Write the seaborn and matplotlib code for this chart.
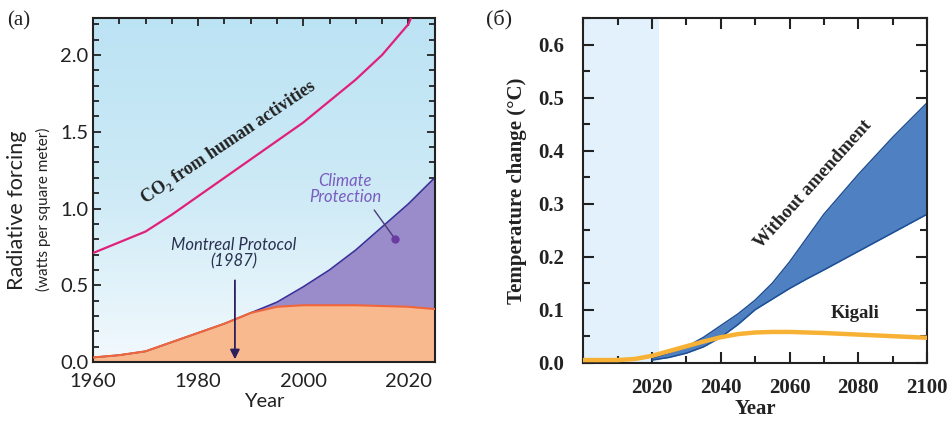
import numpy as np
import pandas as pd
import matplotlib
matplotlib.use("Agg")
import matplotlib.pyplot as plt
import seaborn as sns

# ---- panel (a) data ----
co2_years = [1960, 1965, 1970, 1975, 1980, 1985, 1990, 1995, 2000, 2005, 2010, 2015, 2018, 2020, 2020.5]
co2_forcing = [0.71, 0.78, 0.85, 0.96, 1.08, 1.20, 1.32, 1.44, 1.56, 1.70, 1.84, 2.00, 2.12, 2.20, 2.24]

ods_years = [1960, 1965, 1970, 1975, 1980, 1985, 1990, 1995, 2000, 2005, 2010, 2015, 2020, 2025]
montreal_forcing = [0.03, 0.045, 0.07, 0.13, 0.19, 0.25, 0.32, 0.36, 0.37, 0.37, 0.37, 0.365, 0.36, 0.345]
no_protocol_forcing = [0.03, 0.045, 0.07, 0.13, 0.19, 0.25, 0.32, 0.39, 0.49, 0.60, 0.73, 0.88, 1.03, 1.20]

# ---- panel (б) data ----
band_years = [2020, 2025, 2030, 2035, 2040, 2045, 2050, 2055, 2060, 2065, 2070, 2080, 2090, 2100]
no_amend_high = [0.008, 0.018, 0.03, 0.048, 0.07, 0.092, 0.118, 0.15, 0.19, 0.235, 0.28, 0.355, 0.425, 0.49]
no_amend_low = [0.005, 0.01, 0.018, 0.03, 0.048, 0.072, 0.10, 0.12, 0.14, 0.158, 0.175, 0.21, 0.245, 0.28]

kigali_years = [2000, 2010, 2015, 2020, 2025, 2030, 2035, 2040, 2045, 2050, 2055, 2060, 2070, 2080, 2090, 2100]
kigali_temp = [0.005, 0.005, 0.007, 0.013, 0.022, 0.031, 0.04, 0.048, 0.054, 0.057, 0.058, 0.058, 0.056, 0.053, 0.05, 0.047]

sns.set_theme(style="ticks")
plt.rcParams["font.family"] = ["Lato", "DejaVu Sans"]
SERIF = ["Liberation Serif", "DejaVu Serif"]

fig = plt.figure(figsize=(9.49, 4.21), dpi=100)
ax1 = fig.add_axes([0.098, 0.140, 0.360, 0.817])
ax2 = fig.add_axes([0.6147, 0.1385, 0.3621, 0.8185])

# ======================
# (a) radiative forcing
# ======================
grad = np.linspace(0, 1, 256).reshape(-1, 1)
cmap_bg = matplotlib.colors.LinearSegmentedColormap.from_list("bg", ["#f2f9fd", "#cdeaf6", "#bce3f4"])
ax1.imshow(grad, extent=[1960, 2025, 0, 2.24], origin="lower", aspect="auto", cmap=cmap_bg, zorder=0)

ax1.fill_between(ods_years, montreal_forcing, no_protocol_forcing, color="#9a8ccb", zorder=1, lw=0)
ax1.fill_between(ods_years, 0, montreal_forcing, color="#f9b98e", zorder=1, lw=0)
df_a = pd.DataFrame({"year": ods_years, "montreal": montreal_forcing, "noprot": no_protocol_forcing})
sns.lineplot(data=df_a, x="year", y="noprot", color="#3b2f9a", lw=1.2, ax=ax1, zorder=2)
sns.lineplot(data=df_a, x="year", y="montreal", color="#f0663a", lw=1.5, ax=ax1, zorder=3)
df_co2 = pd.DataFrame({"year": co2_years, "co2": co2_forcing})
sns.lineplot(data=df_co2, x="year", y="co2", color="#e0207a", lw=1.6, ax=ax1, zorder=3)

ax1.set_xlim(1960, 2025)
ax1.set_ylim(0, 2.24)
ax1.set_xticks([1960, 1980, 2000, 2020])
ax1.set_xticks(np.arange(1960, 2026, 5), minor=True)
ax1.set_yticks([0.0, 0.5, 1.0, 1.5, 2.0])
ax1.set_yticks(np.arange(0, 2.25, 0.1), minor=True)
ax1.tick_params(which="both", direction="in", top=True, right=True, width=1.3, colors="#222222", labelsize=14.5)
ax1.tick_params(axis="x", pad=8)
ax1.tick_params(which="major", length=6)
ax1.tick_params(which="minor", length=4)
ax1.set_yticklabels(["0.0", "0.5", "1.0", "1.5", "2.0"])
for s in ax1.spines.values():
    s.set_linewidth(1.5)
    s.set_color("#222222")
ax1.set_xlabel("Year", fontsize=14.5, labelpad=2, color="#222222")
ax1.set_ylabel("")
ax1.text(-0.222, 0.44, "Radiative forcing", rotation=90, transform=ax1.transAxes,
         ha="center", va="center", fontsize=15.5, color="#222222")
ax1.text(-0.146, 0.445, "(watts per square meter)", rotation=90, transform=ax1.transAxes,
         ha="center", va="center", fontsize=11, color="#222222")

ax1.text(1985.8, 1.43, "CO₂ from human activities", rotation=34, ha="center", va="center",
         fontsize=13, fontweight="bold", family=SERIF, color="#222222")
ax1.text(1986.8, 0.71, "Montreal Protocol\n(1987)", ha="center", va="center", fontsize=12,
         style="italic", color="#2a3050", linespacing=1.0)
ax1.annotate("", xy=(1987, 0.0), xytext=(1987, 0.55),
             arrowprops=dict(arrowstyle="-|>", color="#2b1f5c", lw=1.3, mutation_scale=14))
ax1.text(2008, 1.13, "Climate\nProtection", ha="center", va="center", fontsize=12,
         style="italic", color="#7a5cc0", linespacing=1.0)
ax1.plot([2013.5, 2017.5], [0.99, 0.80], color="#4a3a7a", lw=1)
ax1.plot([2017.5], [0.80], "o", color="#6a3ca0", ms=5)
fig.text(0.008, 0.94, "(a)", fontsize=15, family=SERIF, color="#222222")

# ======================
# (б) temperature change
# ======================
ax2.axvspan(2000, 2022, color="#e2f1fb", lw=0, zorder=0)
ax2.fill_between(band_years, no_amend_low, no_amend_high, color="#4f80c2", lw=0, zorder=1)
df_b = pd.DataFrame({"year": band_years, "high": no_amend_high, "low": no_amend_low})
sns.lineplot(data=df_b, x="year", y="high", color="#1d4f95", lw=1.1, ax=ax2, zorder=2)
sns.lineplot(data=df_b, x="year", y="low", color="#1d4f95", lw=1.1, ax=ax2, zorder=2)
df_k = pd.DataFrame({"year": kigali_years, "kigali": kigali_temp})
sns.lineplot(data=df_k, x="year", y="kigali", color="#f7b236", lw=3.2, ax=ax2, zorder=3)

ax2.set_xlim(2000, 2100)
ax2.set_ylim(0, 0.65)
ax2.set_xticks([2020, 2040, 2060, 2080, 2100])
ax2.set_xticks(np.arange(2000, 2101, 10), minor=True)
ax2.set_yticks(np.arange(0, 0.61, 0.1))
ax2.set_yticks(np.arange(0, 0.651, 0.05), minor=True)
ax2.set_yticklabels([f"{v:.1f}" for v in np.arange(0, 0.61, 0.1)])
ax2.tick_params(which="both", direction="in", top=True, right=True, width=1.5, colors="#222222",
                labelsize=15)
ax2.tick_params(axis="x", pad=11)
ax2.tick_params(axis="y", pad=14)
ax2.tick_params(which="major", length=8)
ax2.tick_params(which="minor", length=5)
for lab in ax2.get_xticklabels() + ax2.get_yticklabels():
    lab.set_family(SERIF)
    lab.set_fontweight("bold")
for s in ax2.spines.values():
    s.set_linewidth(1.5)
    s.set_color("#222222")
ax2.set_xlabel("Year", fontsize=15, fontweight="bold", family=SERIF, labelpad=1, color="#222222")
ax2.set_ylabel("Temperature change (°C)", fontsize=15, fontweight="bold", family=SERIF,
               labelpad=8, color="#222222")
ax2.text(2067, 0.336, "Without amendment", rotation=48, ha="center", va="center", fontsize=13.5,
         fontweight="bold", family=SERIF, color="#222222")
ax2.text(2079, 0.093, "Kigali", ha="center", va="center", fontsize=13.5,
         fontweight="bold", family=SERIF, color="#222222")
fig.text(0.512, 0.94, "(б)", fontsize=16, family=SERIF, color="#222222")

fig.savefig("out.png", dpi=100)
